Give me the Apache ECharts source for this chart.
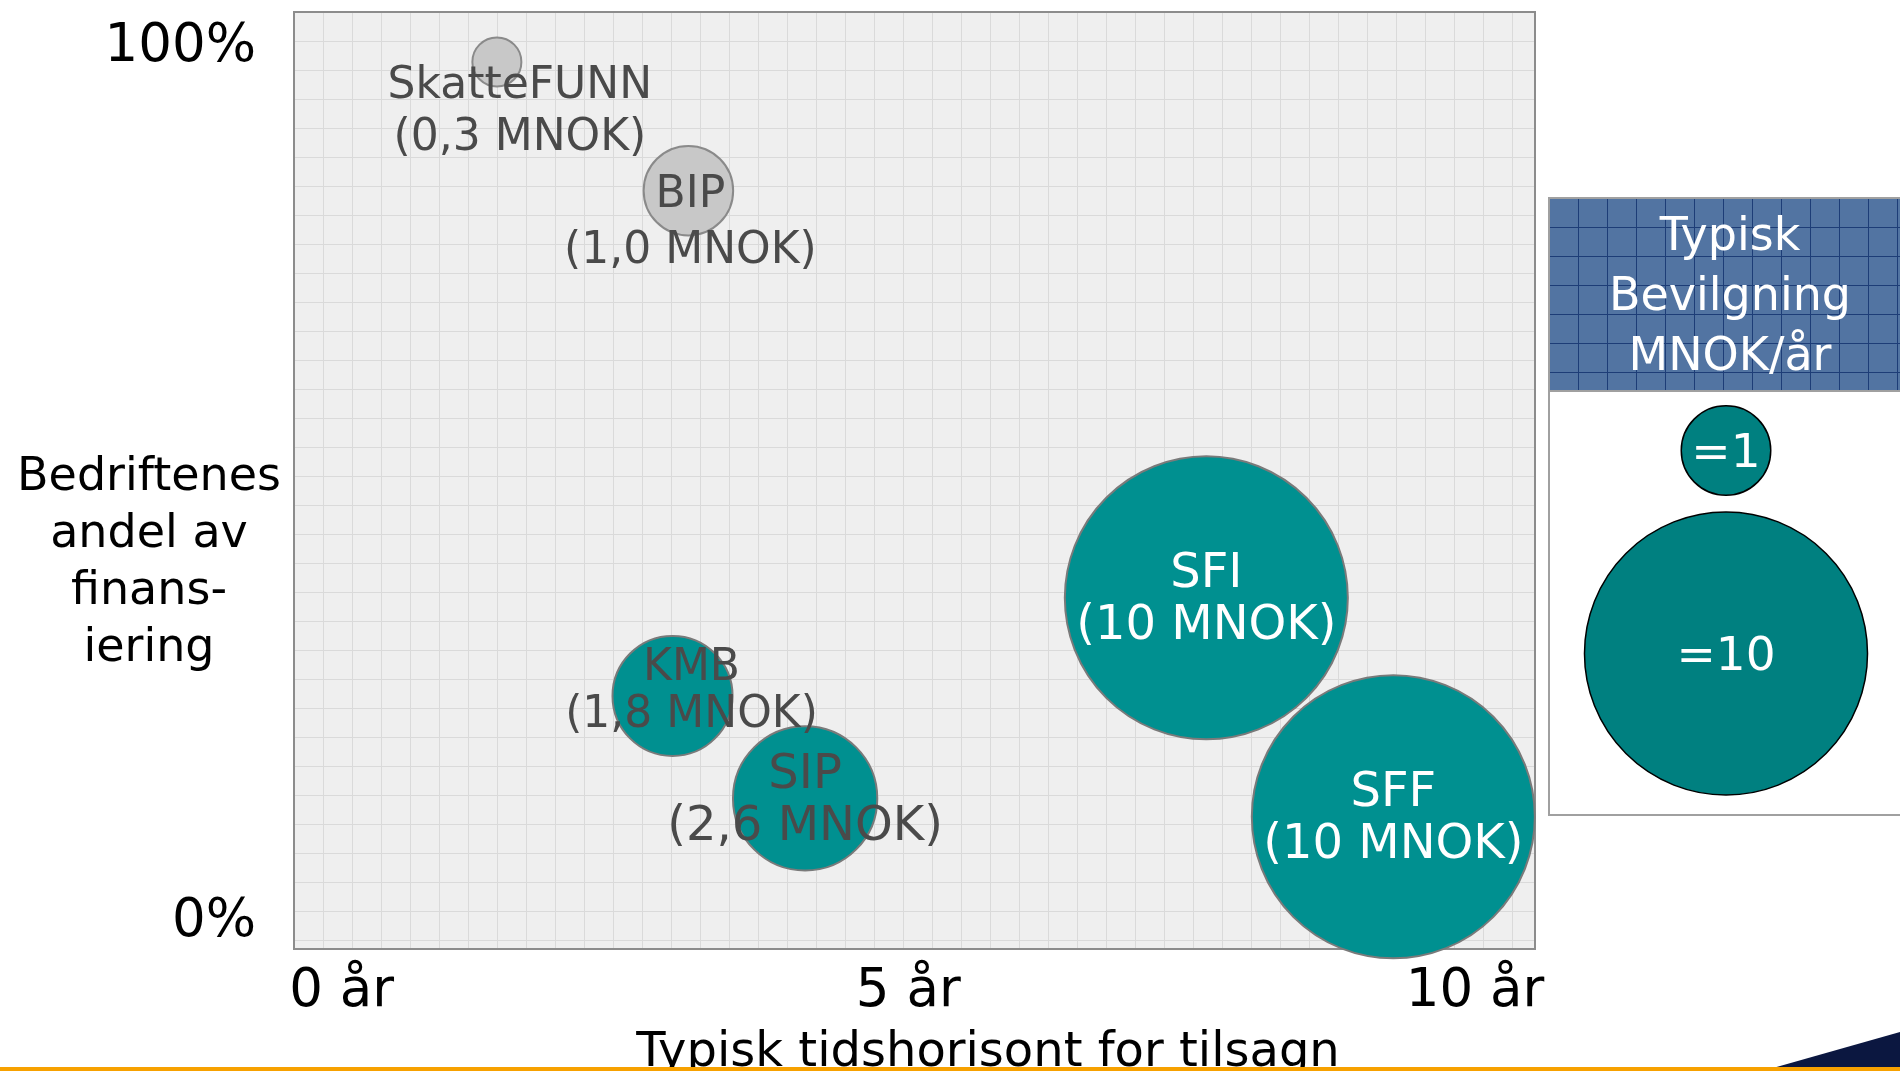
<!DOCTYPE html>
<html>
<head>
<meta charset="utf-8">
<title>Typisk bevilgning</title>
<script src="https://cdn.jsdelivr.net/npm/echarts@6/dist/echarts.min.js"></script>
<style>
  html, body { margin: 0; padding: 0; background: #fff; }
  #main { width: 1900px; height: 1071px; }
</style>
</head>
<body>
<div id="main"></div>
<script>
// virkemidler: tidshorisont (år), bedriftenes andel (%), bevilgning (MNOK/år)
var names = ['SkatteFUNN', 'BIP', 'KMB', 'SIP', 'SFI', 'SFF'];
var years = [1.37, 3.06, 2.92, 4.09, 7.63, 9.28];
var shares = [98.3, 83.6, 25.9, 14.2, 37.1, 12.1];
var mnok = [0.3, 1.0, 1.8, 2.6, 10, 10];

var xTicks = [0, 5, 10];
var yTicks = [0, 100];

// skala-forklaring
var legendValues = [1, 10];
var legendLabels = ['=1', '=10'];

var FONT = 'DejaVu Sans';
var TEAL = '#009090';

function bubbleSize (v) {
  return Math.sqrt(v) * 89.5;
}

function fmtMnok (v) {
  return v >= 10 ? String(v) : v.toFixed(1).replace('.', ',');
}

// tekstur (rutenett) som fyll
function makeTile (bg, line, ox, oy) {
  var c = document.createElement('canvas');
  c.width = 29; c.height = 29;
  var g = c.getContext('2d');
  g.fillStyle = bg;
  g.fillRect(0, 0, 29, 29);
  g.fillStyle = line;
  g.fillRect(ox, 0, 1, 29);
  g.fillRect(0, oy, 29, 1);
  return c;
}

// stil per boble (grå for små ordninger, hvit tekst i store)
var grey = { SkatteFUNN: true, BIP: true };
var whiteText = { SFI: true, SFF: true };
var labelOffset = { SkatteFUNN: [23, 51], BIP: [2, 33], KMB: [19, -4] };
var smallText = { SkatteFUNN: true, BIP: true, KMB: true };

var bubbles = names.map(function (n, i) {
  return {
    name: n,
    value: [years[i], shares[i], mnok[i]],
    itemStyle: grey[n]
      ? { color: '#c8c8c8', borderColor: '#8a8a8a', borderWidth: 2, opacity: 1 }
      : { color: TEAL, borderColor: '#7a7a7a', borderWidth: 2, opacity: 1 },
    label: {
      color: whiteText[n] ? '#ffffff' : '#4a4a4a',
      fontSize: smallText[n] ? 44 : 48,
      lineHeight: n === 'KMB' ? 47 : (n === 'BIP' ? 56 : 52),
      offset: labelOffset[n] || [0, 3]
    }
  };
});

var legendData = legendValues.map(function (v, i) {
  return { name: legendLabels[i], value: [0.5, legendLabels[i], v] };
});

var chart = echarts.init(document.getElementById('main'));

var option = {
  backgroundColor: '#ffffff',
  animation: false,
  textStyle: { fontFamily: FONT },
  grid: [
    {
      left: 294, top: 12, width: 1241, height: 937,
      outerBoundsMode: 'none',
      show: true,
      backgroundColor: { image: makeTile('#efefef', '#dadada', 4, 12), repeat: 'repeat' },
      borderColor: '#8c8c8c',
      borderWidth: 2
    },
    { left: 1626, top: 349, width: 200, height: 406, outerBoundsMode: 'none' }
  ],
  xAxis: [
    {
      type: 'value', gridIndex: 0, min: -0.42, max: 10.53,
      axisLine: { show: false }, axisTick: { show: false }, splitLine: { show: false },
      axisLabel: {
        customValues: xTicks,
        formatter: function (v) { return v + ' år'; },
        fontSize: 53, color: '#000', margin: 17
      },
      name: 'Typisk tidshorisont for tilsagn',
      nameLocation: 'middle',
      nameGap: 81,
      nameTextStyle: { fontSize: 48, color: '#000', padding: [0, 0, 0, 147] }
    },
    {
      type: 'value', gridIndex: 1, min: 0, max: 1, show: false
    }
  ],
  yAxis: [
    {
      type: 'value', gridIndex: 0, min: -3, max: 104,
      axisLine: { show: false }, axisTick: { show: false }, splitLine: { show: false },
      axisLabel: {
        customValues: yTicks,
        formatter: function (v) { return v + '%'; },
        fontSize: 53, color: '#000', margin: 38,
        padding: [20, 0, 0, 0]
      }
    },
    {
      type: 'category', gridIndex: 1, data: legendLabels, inverse: true, show: false
    }
  ],
  graphic: [
    // y-aksetittel
    {
      type: 'text', z: 5,
      style: {
        text: 'Bedriftenes\nandel av\nfinans-\niering',
        x: 149, y: 564, align: 'center', verticalAlign: 'middle',
        fontFamily: FONT, fontSize: 46, lineHeight: 57, fill: '#000'
      }
    },
    // forklaringsboks
    {
      type: 'rect', z: 0,
      shape: { x: 1549, y: 198, width: 362, height: 617 },
      style: { fill: '#ffffff', stroke: '#a0a0a0', lineWidth: 2 }
    },
    {
      type: 'rect', z: 1,
      shape: { x: 1549, y: 198, width: 362, height: 193 },
      style: {
        fill: { image: makeTile('#5274a2', '#1d3d77', 12, 24), repeat: 'repeat' },
        stroke: '#a0a0a0', lineWidth: 2
      }
    },
    {
      type: 'text', z: 2,
      style: {
        text: 'Typisk\nBevilgning\nMNOK/år',
        x: 1730, y: 298, align: 'center', verticalAlign: 'middle',
        fontFamily: FONT, fontSize: 46, lineHeight: 60, fill: '#ffffff'
      }
    },
    // bunnlinje på lysbildet
    {
      type: 'polygon', z: 3,
      shape: { points: [[1773, 1068], [1900, 1032], [1900, 1068]] },
      style: { fill: '#0b1740' }
    },
    {
      type: 'rect', z: 3,
      shape: { x: 0, y: 1067, width: 1900, height: 4 },
      style: { fill: '#f7a100' }
    }
  ],
  series: [
    {
      type: 'scatter',
      xAxisIndex: 0, yAxisIndex: 0,
      clip: false,
      z: 3,
      symbolSize: function (val) { return bubbleSize(val[2]); },
      data: bubbles,
      label: {
        show: true,
        position: 'inside',
        fontFamily: FONT,
        formatter: function (p) { return p.name + '\n(' + fmtMnok(p.value[2]) + ' MNOK)'; }
      },
      emphasis: { disabled: true }
    },
    {
      type: 'scatter',
      xAxisIndex: 1, yAxisIndex: 1,
      clip: false,
      z: 4,
      symbolSize: function (val) { return bubbleSize(val[2]); },
      data: legendData,
      itemStyle: { color: '#008080', borderColor: '#000', borderWidth: 1.5, opacity: 1 },
      label: {
        show: true, position: 'inside', offset: [0, 4],
        fontFamily: FONT, fontSize: 47, color: '#fff',
        formatter: function (p) { return p.name; }
      },
      emphasis: { disabled: true }
    }
  ]
};

chart.setOption(option);
</script>
</body>
</html>
